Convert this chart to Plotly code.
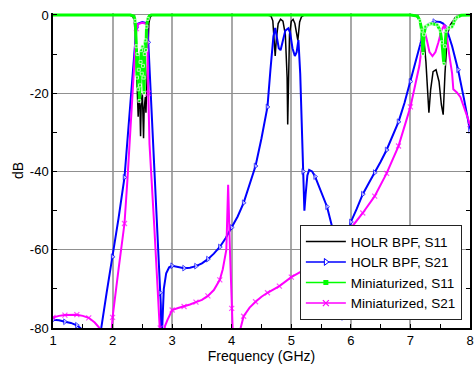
import plotly.graph_objects as go

# ---------------- data ----------------
holr_s11_f = [1.0, 2.30, 2.34, 2.36, 2.38, 2.40, 2.42, 2.43, 2.44, 2.46, 2.47, 2.48, 2.50, 2.52, 2.53,
              2.55, 2.56, 2.57, 2.59, 2.61, 2.63, 2.66,
              4.60, 4.66, 4.69, 4.71, 4.73, 4.75, 4.78, 4.82, 4.86, 4.90, 4.93, 4.94, 4.95, 4.97,
              5.00, 5.03, 5.06, 5.09, 5.11, 5.12, 5.14, 5.17, 5.22,
              7.00, 7.10, 7.15, 7.18, 7.22, 7.26, 7.29, 7.31, 7.34, 7.38, 7.43, 7.48, 7.52, 7.55,
              7.58, 7.62, 7.67, 7.72, 7.76, 7.80, 7.90, 8.0]
holr_s11_db = [0, -0.1, -0.4, -1.2, -4, -12, -22, -26, -21, -24, -31, -23, -20, -31.5, -24,
               -21, -25, -19, -7, -2, -0.6, -0.1,
               0, -0.3, -1.5, -5, -10.5, -6, -2.2, -1.1, -1.6, -5, -16, -28, -16, -5,
               -1.6, -1.1, -2.2, -4.5, -6.5, -5, -1.8, -0.5, 0,
               0, -0.3, -1, -2.5, -5, -12, -20, -25, -19, -14.5, -14, -17, -23, -25.5,
               -15, -5, -2.5, -1.2, -0.5, -0.2, 0, 0]

holr_s21_f = [1.0, 1.1, 1.2, 1.3, 1.4, 1.5, 1.6, 1.7, 1.78, 1.81, 1.9, 2.0, 2.1, 2.2, 2.25, 2.3, 2.35,
              2.38, 2.4, 2.43, 2.5, 2.55, 2.58, 2.6, 2.63, 2.7, 2.75, 2.8, 2.81, 2.82, 2.84, 2.86,
              2.9, 2.95, 3.0, 3.1, 3.2, 3.3, 3.4, 3.5, 3.6, 3.7, 3.8, 3.9, 4.0, 4.1, 4.2, 4.3,
              4.4, 4.5, 4.6, 4.65, 4.7, 4.73, 4.76, 4.79, 4.82, 4.85, 4.9, 4.95, 4.98, 5.02, 5.06,
              5.09, 5.12, 5.15, 5.2, 5.22, 5.24, 5.27, 5.3, 5.35, 5.4, 5.5, 5.6, 5.7, 5.75, 5.8,
              5.85, 5.88, 5.9, 5.95, 6.0, 6.1, 6.2, 6.3, 6.4, 6.5, 6.6, 6.7, 6.8, 6.9, 7.0, 7.1,
              7.2, 7.25, 7.3, 7.4, 7.5, 7.55, 7.6, 7.7, 7.8, 7.9, 8.0]
holr_s21_db = [-77.9, -78.0, -78.4, -78.7, -79.3, -80.5, -83, -90, -85, -80, -71, -61.8, -52, -41.5,
               -32, -21, -11, -5.5, -3.2, -2.2, -1.8, -2.0, -2.8, -7, -17, -40, -56, -71, -74, -85,
               -78, -70, -66, -64.5, -64.1, -64.4, -64.7, -64.6, -64.2, -63.5, -62.4, -61, -59.3,
               -57, -54.3, -51.5, -48, -43.5, -38.6, -31.5, -23.5, -14, -5.5, -3.3, -6, -8.5, -9,
               -7, -4, -3.4, -4.5, -8.5, -10.5, -9.5, -6.4, -15, -40, -50, -46, -41, -39.6, -40,
               -41.3, -45, -49, -55, -58, -64, -78, -74, -64, -57, -52.9, -49.5, -45.8, -43, -40.3,
               -37.5, -34.5, -31, -27.3, -22.5, -17, -11, -5.5, -3.5, -2.3, -1.7, -1.8, -2.2, -3.2,
               -8, -14, -21.5, -29.5]

mini_s11_f = [1.0, 2.30, 2.36, 2.38, 2.40, 2.41, 2.42, 2.43, 2.44, 2.45, 2.46, 2.47, 2.48, 2.49, 2.50,
              2.51, 2.52, 2.53, 2.54, 2.55, 2.56, 2.57, 2.59, 2.62, 2.65,
              7.0, 7.12, 7.16, 7.19, 7.21, 7.23, 7.25, 7.3, 7.35, 7.45, 7.5, 7.53, 7.56, 7.58, 7.6,
              7.65, 7.7, 7.74, 7.78, 7.85, 8.0]
mini_s11_db = [0, 0, -0.3, -1.5, -8, -16, -10, -19, -14, -22, -18, -12, -9, -15, -8,
               -13, -16, -20, -10, -6.5, -9, -3, -1, -0.2, 0,
               0, -0.3, -1.5, -4, -10, -5, -3, -2.5, -2.2, -2.5, -4, -7, -12.5, -8, -4,
               -3.2, -3, -1.5, -0.6, -0.1, 0]

mini_s21_f = [1.0, 1.1, 1.2, 1.3, 1.4, 1.5, 1.6, 1.7, 1.78, 1.83, 1.9, 1.96, 1.99, 2.0, 2.1, 2.2,
              2.25, 2.3, 2.35, 2.38, 2.4, 2.43, 2.5, 2.55, 2.58, 2.6, 2.62, 2.7, 2.78, 2.8, 2.82,
              2.86, 2.88, 2.92, 3.0, 3.1, 3.2, 3.3, 3.4, 3.5, 3.6, 3.7, 3.8, 3.85, 3.91, 3.94,
              3.97, 4.0, 4.02, 4.06, 4.12, 4.15, 4.2, 4.3, 4.4, 4.5, 4.6, 4.8, 5.0, 5.2, 5.4, 5.6,
              5.8, 6.0, 6.2, 6.4, 6.6, 6.8, 7.0, 7.1, 7.15, 7.2, 7.23, 7.27, 7.32, 7.37, 7.42, 7.47,
              7.52, 7.57, 7.6, 7.65, 7.7, 7.72, 7.78, 7.84, 7.9, 8.0]
mini_s21_db = [-77.3, -76.9, -76.7, -76.6, -76.6, -76.9, -77.4, -78.6, -80, -86, -92, -86, -80,
               -77.3, -65, -53.3, -42, -29, -15, -7, -3.5, -2.3, -2.0, -2.2, -3, -20, -33, -54,
               -75, -80, -88, -82, -79.5, -78, -75.4, -74.9, -74.5, -74, -73.4, -72.8, -71.8, -70.3,
               -67.7, -65, -60, -43.4, -60, -75, -82, -90, -84, -80, -77, -74.8, -73.3, -72, -71,
               -69.3, -67, -65.3, -63.2, -60.5, -57.5, -54.5, -50.6, -46.3, -40.5, -33.5, -23.5,
               -17, -13, -7, -3.8, -6, -9.5, -10.5, -9.5, -7, -4, -2.5, -4, -10, -15, -19, -19.8,
               -21, -23.5, -28]

legend_names = ["HOLR BPF, S11", "HOLR BPF, S21", "Miniaturized, S11", "Miniaturized, S21"]
x_ticks = [1, 2, 3, 4, 5, 6, 7, 8]
y_ticks = [0, -20, -40, -60, -80]

# ---------------- styling ----------------
FONT = "Liberation Sans, Arial, sans-serif"
BLUE, MAGENTA, GREEN = "#0000ff", "#ff00ff", "#00ff00"


def marker_sizes(freqs, size):
    # markers drawn every 0.2 GHz along the curve
    return [size if abs(f * 5 - round(f * 5)) < 1e-6 else 0 for f in freqs]


fig = go.Figure()

fig.add_trace(go.Scatter(x=holr_s11_f, y=holr_s11_db, mode="lines",
                         line=dict(color="black", width=1.5), showlegend=False))
fig.add_trace(go.Scatter(x=holr_s21_f, y=holr_s21_db, mode="lines+markers",
                         line=dict(color=BLUE, width=2),
                         marker=dict(symbol="triangle-right", size=marker_sizes(holr_s21_f, 5),
                                     color="white", line=dict(width=1, color=BLUE)),
                         showlegend=False))
fig.add_trace(go.Scatter(x=mini_s21_f, y=mini_s21_db, mode="lines+markers",
                         line=dict(color=MAGENTA, width=2),
                         marker=dict(symbol="x-thin", size=marker_sizes(mini_s21_f, 5),
                                     color=MAGENTA, line=dict(width=1.2, color=MAGENTA)),
                         showlegend=False))
fig.add_trace(go.Scatter(x=mini_s11_f, y=mini_s11_db, mode="lines+markers",
                         line=dict(color=GREEN, width=3),
                         marker=dict(symbol="square", size=[3 if v < -0.5 else 0 for v in mini_s11_db],
                                     color=GREEN),
                         showlegend=False))

# legend entries
fig.add_trace(go.Scatter(x=[None], y=[None], mode="lines", name=legend_names[0],
                         line=dict(color="black", width=1.5)))
fig.add_trace(go.Scatter(x=[None], y=[None], mode="lines+markers", name=legend_names[1],
                         line=dict(color=BLUE, width=1.5),
                         marker=dict(symbol="triangle-right", size=6, color="white",
                                     line=dict(width=1, color=BLUE))))
fig.add_trace(go.Scatter(x=[None], y=[None], mode="lines+markers", name=legend_names[2],
                         line=dict(color=GREEN, width=1.5),
                         marker=dict(symbol="square", size=5, color=GREEN)))
fig.add_trace(go.Scatter(x=[None], y=[None], mode="lines+markers", name=legend_names[3],
                         line=dict(color=MAGENTA, width=1.5),
                         marker=dict(symbol="x-thin", size=6, color=MAGENTA,
                                     line=dict(width=1.2, color=MAGENTA))))

fig.update_layout(
    width=476, height=367,
    margin=dict(l=53, r=2, t=13, b=39),
    paper_bgcolor="white", plot_bgcolor="white",
    font=dict(family=FONT, size=13, color="black"),
    showlegend=True,
    legend=dict(x=0.592, y=0.025, xanchor="left", yanchor="bottom",
                bgcolor="white", bordercolor="#222222", borderwidth=1,
                font=dict(family=FONT, size=13.5, color="black"),
                tracegroupgap=0, itemwidth=40),
    xaxis=dict(range=[1, 8], tickvals=x_ticks, ticktext=[str(v) for v in x_ticks],
               ticks="inside", ticklen=4, tickcolor="black",
               showline=True, linecolor="black", linewidth=1.5,
               showgrid=True, gridcolor="#a8a8a8", gridwidth=1.5, zeroline=False,
               minor=dict(dtick=0.5, tick0=0.5, ticks="inside", ticklen=4, tickcolor="black", showgrid=False),
               title=dict(text="Frequency (GHz)", font=dict(size=14), standoff=4),
               tickfont=dict(size=13)),
    yaxis=dict(range=[-80, 0.5], tickvals=y_ticks, ticktext=[str(v) for v in y_ticks],
               ticks="inside", ticklen=4, tickcolor="black",
               showline=True, linecolor="black", linewidth=1.5, mirror="ticks",
               showgrid=True, gridcolor="#909090", gridwidth=1, zeroline=False,
               minor=dict(dtick=10, tick0=0, ticks="inside", ticklen=4, tickcolor="black", showgrid=False),
               title=dict(text="dB", font=dict(size=14), standoff=3),
               tickfont=dict(size=13)),
)

fig.write_html("out.html")
